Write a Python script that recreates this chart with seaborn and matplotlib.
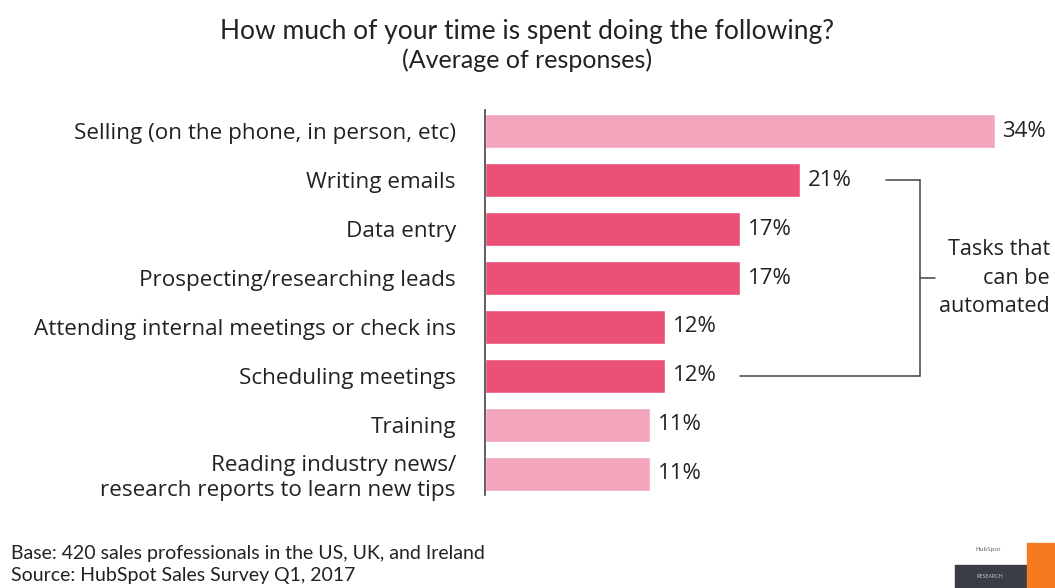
import matplotlib
matplotlib.use("Agg")
import matplotlib.pyplot as plt
import seaborn as sns
import pandas as pd
from matplotlib.patches import Rectangle

categories = [
    "Selling (on the phone, in person, etc)",
    "Writing emails",
    "Data entry",
    "Prospecting/researching leads",
    "Attending internal meetings or check ins",
    "Scheduling meetings",
    "Training",
    "Reading industry news/\nresearch reports to learn new tips",
]
values = [34, 21, 17, 17, 12, 12, 11, 11]
automatable = [False, True, True, True, True, True, False, False]

LIGHT = "#F3A5BC"
DARK = "#EB5077"
INK = "#222222"

sns.set_theme(style="white")
plt.rcParams["font.family"] = ["Open Sans", "DejaVu Sans"]

df = pd.DataFrame({
    "task": categories,
    "share": values,
    "group": ["auto" if a else "other" for a in automatable],
})

fig = plt.figure(figsize=(10.55, 5.88), dpi=100)
ax = fig.add_axes([485 / 1055, 1 - 495 / 588, 565 / 1055, 385 / 588])

sns.barplot(data=df, y="task", x="share", hue="group", orient="h",
            palette={"auto": DARK, "other": LIGHT}, dodge=False,
            width=0.7, legend=False, ax=ax, saturation=1)

ax.set_xlim(0, 565 / 15)
ax.set_ylim(len(categories) - 0.57, -0.43)
ax.set_xlabel("")
ax.set_ylabel("")
ax.set_xticks([])
for s in ["top", "right", "bottom"]:
    ax.spines[s].set_visible(False)
ax.spines["left"].set_color("#444444")
ax.spines["left"].set_linewidth(1.2)
ax.tick_params(axis="y", length=0, pad=21, labelsize=16.2, labelcolor=INK)
for lbl in ax.get_yticklabels():
    lbl.set_horizontalalignment("right")
    lbl.set_multialignment("right")
    lbl.set_linespacing(1.2)

for i, v in enumerate(values):
    ax.text(v + 0.5, i, f"{v}%", va="center", ha="left",
            fontsize=16, color=INK)

# bracket grouping the automatable tasks
line_kw = dict(color="#444444", lw=1.1, clip_on=False)
ax.plot([26.7, 29.0], [1, 1], **line_kw)
ax.plot([17.0, 29.0], [5, 5], **line_kw)
ax.plot([29.0, 29.0], [1, 5], **line_kw)
ax.plot([29.0, 30.0], [3, 3], **line_kw)
ax.text(37.65, 3, "Tasks that\ncan be\nautomated", ha="right", va="center",
        multialignment="right", fontsize=15.5, color=INK, linespacing=1.45)

fig.text(0.5, 1 - 31 / 588, "How much of your time is spent doing the following?",
         ha="center", va="center", fontsize=19, color=INK,
         family=["Lato", "DejaVu Sans"])
fig.text(0.5, 1 - 60 / 588, "(Average of responses)",
         ha="center", va="center", fontsize=18, color=INK,
         family=["Lato", "DejaVu Sans"])

fig.text(11 / 1055, 1 - 553 / 588, "Base: 420 sales professionals in the US, UK, and Ireland",
         ha="left", va="center", fontsize=14, color=INK,
         family=["Lato", "DejaVu Sans"])
fig.text(11 / 1055, 1 - 576 / 588, "Source: HubSpot Sales Survey Q1, 2017",
         ha="left", va="center", fontsize=14, color=INK,
         family=["Lato", "DejaVu Sans"])

# small brand mark in the corner
fig.patches.append(Rectangle((955 / 1055, 0), 71 / 1055, 23 / 588,
                             transform=fig.transFigure, color="#3a3d44"))
fig.patches.append(Rectangle((1027 / 1055, 0), 28 / 1055, 45 / 588,
                             transform=fig.transFigure, color="#F57B20"))
fig.text(975 / 1055, 1 - 550 / 588, "HubSpot", fontsize=4.5, color="#555555",
         ha="left", va="center")
fig.text(990 / 1055, 11 / 588, "RESEARCH", fontsize=4, color="#cccccc",
         ha="center", va="center")

fig.savefig("out.png", dpi=100, facecolor="white")
